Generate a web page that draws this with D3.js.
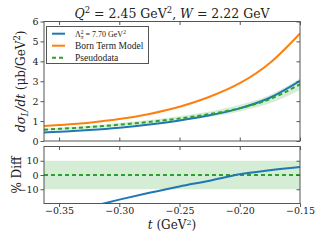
<!DOCTYPE html>
<html>
<head>
<meta charset="utf-8">
<script src="https://cdn.jsdelivr.net/npm/d3@7"></script>
<style>
  html, body { margin: 0; padding: 0; background: #fff; }
  svg { display: block; font-family: "DejaVu Serif", serif; }
</style>
</head>
<body>
<svg id="chart" width="320" height="240"></svg>
<script>
// values
const tValues   = [-0.3625, -0.35, -0.325, -0.30, -0.275, -0.25, -0.225, -0.20, -0.175, -0.15];
const bornTerm  = [0.75, 0.80, 0.92, 1.10, 1.36, 1.72, 2.22, 2.90, 3.92, 5.40];
const model     = [0.43, 0.46, 0.55, 0.67, 0.83, 1.03, 1.29, 1.64, 2.17, 3.02];
const pseudo    = [0.57, 0.61, 0.70, 0.82, 0.96, 1.13, 1.35, 1.65, 2.10, 2.85];
const pctDiff   = [-31, -28, -22.5, -17.3, -12.5, -8, -4, 0.5, 3.3, 5.6];
const bandPct   = 10;
const xTicks    = [-0.35, -0.30, -0.25, -0.20, -0.15];
const yTicksTop = [0, 1, 2, 3, 4, 5, 6];
const yTicksBot = [-10, 0, 10];

const blue = '#1f77b4', orange = '#ff7f0e', green = '#2ca02c', spine = '#555';

const svg = d3.select('#chart');
const left = 44, right = 300;

const x = d3.scaleLinear().domain([-0.3625, -0.15]).range([left, right]);
const yTop = d3.scaleLinear().domain([0, 6]).range([141, 21.5]);
const yBot = d3.scaleLinear().domain([-20, 20]).range([203.5, 146.5]);

const fmt = d => d3.format('.2f')(d).replace('-', '\u2212');
const fmtInt = d => String(d).replace('-', '\u2212');

const rows = tValues.map((t, i) => ({
  t, born: bornTerm[i], model: model[i], pseudo: pseudo[i], diff: pctDiff[i]
}));

const defs = svg.append('defs');
defs.append('clipPath').attr('id', 'clipTop').append('rect')
  .attr('x', left).attr('y', yTop.range()[1]).attr('width', right - left)
  .attr('height', yTop.range()[0] - yTop.range()[1]);
defs.append('clipPath').attr('id', 'clipBot').append('rect')
  .attr('x', left).attr('y', yBot.range()[1]).attr('width', right - left)
  .attr('height', yBot.range()[0] - yBot.range()[1]);

// ---- top panel ----
const topG = svg.append('g').attr('clip-path', 'url(#clipTop)');
const curve = d3.curveMonotoneX;

topG.append('path')
  .datum(rows)
  .attr('fill', green).attr('fill-opacity', 0.2)
  .attr('d', d3.area().curve(curve)
    .x(d => x(d.t))
    .y0(d => yTop(d.pseudo * (1 - bandPct / 100)))
    .y1(d => yTop(d.pseudo * (1 + bandPct / 100))));

const lineTop = key => d3.line().curve(curve).x(d => x(d.t)).y(d => yTop(d[key]));

topG.append('path').datum(rows).attr('fill', 'none')
  .attr('stroke', blue).attr('stroke-width', 2).attr('d', lineTop('model'));
topG.append('path').datum(rows).attr('fill', 'none')
  .attr('stroke', orange).attr('stroke-width', 2).attr('d', lineTop('born'));
topG.append('path').datum(rows).attr('fill', 'none')
  .attr('stroke', green).attr('stroke-width', 2).attr('stroke-dasharray', '4,3')
  .attr('d', lineTop('pseudo'));

// ---- bottom panel ----
const botG = svg.append('g').attr('clip-path', 'url(#clipBot)');
botG.append('rect')
  .attr('x', left).attr('width', right - left)
  .attr('y', yBot(bandPct)).attr('height', yBot(-bandPct) - yBot(bandPct))
  .attr('fill', green).attr('fill-opacity', 0.2);
botG.append('line')
  .attr('x1', left).attr('x2', right).attr('y1', yBot(0)).attr('y2', yBot(0))
  .attr('stroke', green).attr('stroke-width', 2).attr('stroke-dasharray', '4,3');
botG.append('path').datum(rows).attr('fill', 'none')
  .attr('stroke', blue).attr('stroke-width', 2)
  .attr('d', d3.line().curve(curve).x(d => x(d.t)).y(d => yBot(d.diff)));

// ---- axes ----
function styleAxis(g) {
  g.select('.domain').remove();
  g.selectAll('.tick line').attr('stroke', spine);
  g.selectAll('.tick text').attr('fill', '#222').style('font-size', '9.5px')
    .style('font-family', '"DejaVu Serif", serif');
}

// top panel
svg.append('g').attr('transform', `translate(${left},0)`)
  .call(d3.axisLeft(yTop).tickValues(yTicksTop).tickSize(3.5).tickPadding(2).tickFormat(fmtInt))
  .call(styleAxis);
svg.append('g').attr('transform', `translate(${right},0)`)
  .call(d3.axisLeft(yTop).tickValues(yTicksTop).tickSize(3.5).tickFormat(''))
  .call(styleAxis);
svg.append('g').attr('transform', `translate(0,${yTop.range()[0]})`)
  .call(d3.axisTop(x).tickValues(xTicks).tickSize(3.5).tickFormat(''))
  .call(styleAxis);
svg.append('g').attr('transform', `translate(0,${yTop.range()[1]})`)
  .call(d3.axisBottom(x).tickValues(xTicks).tickSize(3.5).tickFormat(''))
  .call(styleAxis);

// bottom panel
svg.append('g').attr('transform', `translate(${left},0)`)
  .call(d3.axisLeft(yBot).tickValues(yTicksBot).tickSize(3.5).tickPadding(2).tickFormat(fmtInt))
  .call(styleAxis);
svg.append('g').attr('transform', `translate(${right},0)`)
  .call(d3.axisLeft(yBot).tickValues(yTicksBot).tickSize(3.5).tickFormat(''))
  .call(styleAxis);
svg.append('g').attr('transform', `translate(0,${yBot.range()[0]})`)
  .call(d3.axisBottom(x).tickValues(xTicks).tickSize(3.5).tickPadding(0).tickFormat(fmt))
  .call(styleAxis);
svg.append('g').attr('transform', `translate(0,${yBot.range()[1]})`)
  .call(d3.axisBottom(x).tickValues(xTicks).tickSize(3.5).tickFormat(''))
  .call(styleAxis);

// frames
[yTop, yBot].forEach(ys => {
  svg.append('rect')
    .attr('x', left).attr('y', ys.range()[1])
    .attr('width', right - left).attr('height', ys.range()[0] - ys.range()[1])
    .attr('fill', 'none').attr('stroke', spine).attr('stroke-width', 1);
});

// ---- legend ----
const leg = svg.append('g').style('font-family', '"Liberation Serif", serif');
leg.append('rect').attr('x', 46.5).attr('y', 26.5).attr('width', 102).attr('height', 37)
  .attr('fill', '#fff').attr('stroke', spine).attr('stroke-width', 1);
const legendItems = [
  { color: blue, dash: null, label: 'model' },
  { color: orange, dash: null, label: 'Born Term Model' },
  { color: green, dash: '4,3', label: 'Pseudodata' }
];
legendItems.forEach((it, i) => {
  const y = 33.7 + i * 12;
  leg.append('line').attr('x1', 52).attr('x2', 65).attr('y1', y).attr('y2', y)
    .attr('stroke', it.color).attr('stroke-width', 2)
    .attr('stroke-dasharray', it.dash);
  const tx = leg.append('text').attr('x', 75).attr('y', y + 3)
    .style('font-size', '9.5px').attr('fill', '#222');
  if (it.label === 'model') {
    tx.style('font-size', '8px');
    tx.append('tspan').text('\u039B');
    tx.append('tspan').attr('dy', -2.5).style('font-size', '5.5px').text('2');
    tx.append('tspan').attr('dx', -2.8).attr('dy', 4.5).style('font-size', '5.5px')
      .style('font-style', 'italic').text('\u03C0');
    tx.append('tspan').attr('dy', -2).text(' = 7.70 GeV');
    tx.append('tspan').attr('dy', -2.5).style('font-size', '5.5px').text('2');
  } else {
    tx.text(it.label);
  }
});

// ---- titles and labels ----
const title = svg.append('text').attr('x', 172).attr('y', 17.5)
  .attr('text-anchor', 'middle').style('font-size', '12.5px').attr('fill', '#222');
title.append('tspan').style('font-style', 'italic').text('Q');
title.append('tspan').attr('dy', -5).style('font-size', '8.5px').text('2');
title.append('tspan').attr('dy', 5).text(' = 2.45 GeV');
title.append('tspan').attr('dy', -5).style('font-size', '8.5px').text('2');
title.append('tspan').attr('dy', 5).text(', ');
title.append('tspan').style('font-style', 'italic').text('W');
title.append('tspan').text(' = 2.22 GeV');

const yl = svg.append('text')
  .attr('transform', `translate(25,${(yTop.range()[0] + yTop.range()[1]) / 2}) rotate(-90)`)
  .attr('text-anchor', 'middle').style('font-size', '12px').attr('fill', '#222');
yl.append('tspan').style('font-style', 'italic').text('d\u03C3');
yl.append('tspan').attr('dy', 3).style('font-size', '8.5px').style('font-style', 'italic').text('L');
yl.append('tspan').attr('dy', -3).style('font-style', 'italic').text('/dt');
yl.append('tspan').text(' (\u03BCb/GeV');
yl.append('tspan').attr('dy', -5).style('font-size', '8.5px').text('2');
yl.append('tspan').attr('dy', 5).text(')');

svg.append('text')
  .attr('transform', `translate(21,${(yBot.range()[0] + yBot.range()[1]) / 2}) rotate(-90)`)
  .attr('text-anchor', 'middle').style('font-size', '12px').attr('fill', '#222')
  .text('% Diff');

const xl = svg.append('text').attr('x', 172).attr('y', 229)
  .attr('text-anchor', 'middle').style('font-size', '12px').attr('fill', '#222');
xl.append('tspan').style('font-style', 'italic').text('t');
xl.append('tspan').text(' (GeV');
xl.append('tspan').attr('dy', -4).style('font-size', '8px').text('2');
xl.append('tspan').attr('dy', 4).text(')');
</script>
</body>
</html>
